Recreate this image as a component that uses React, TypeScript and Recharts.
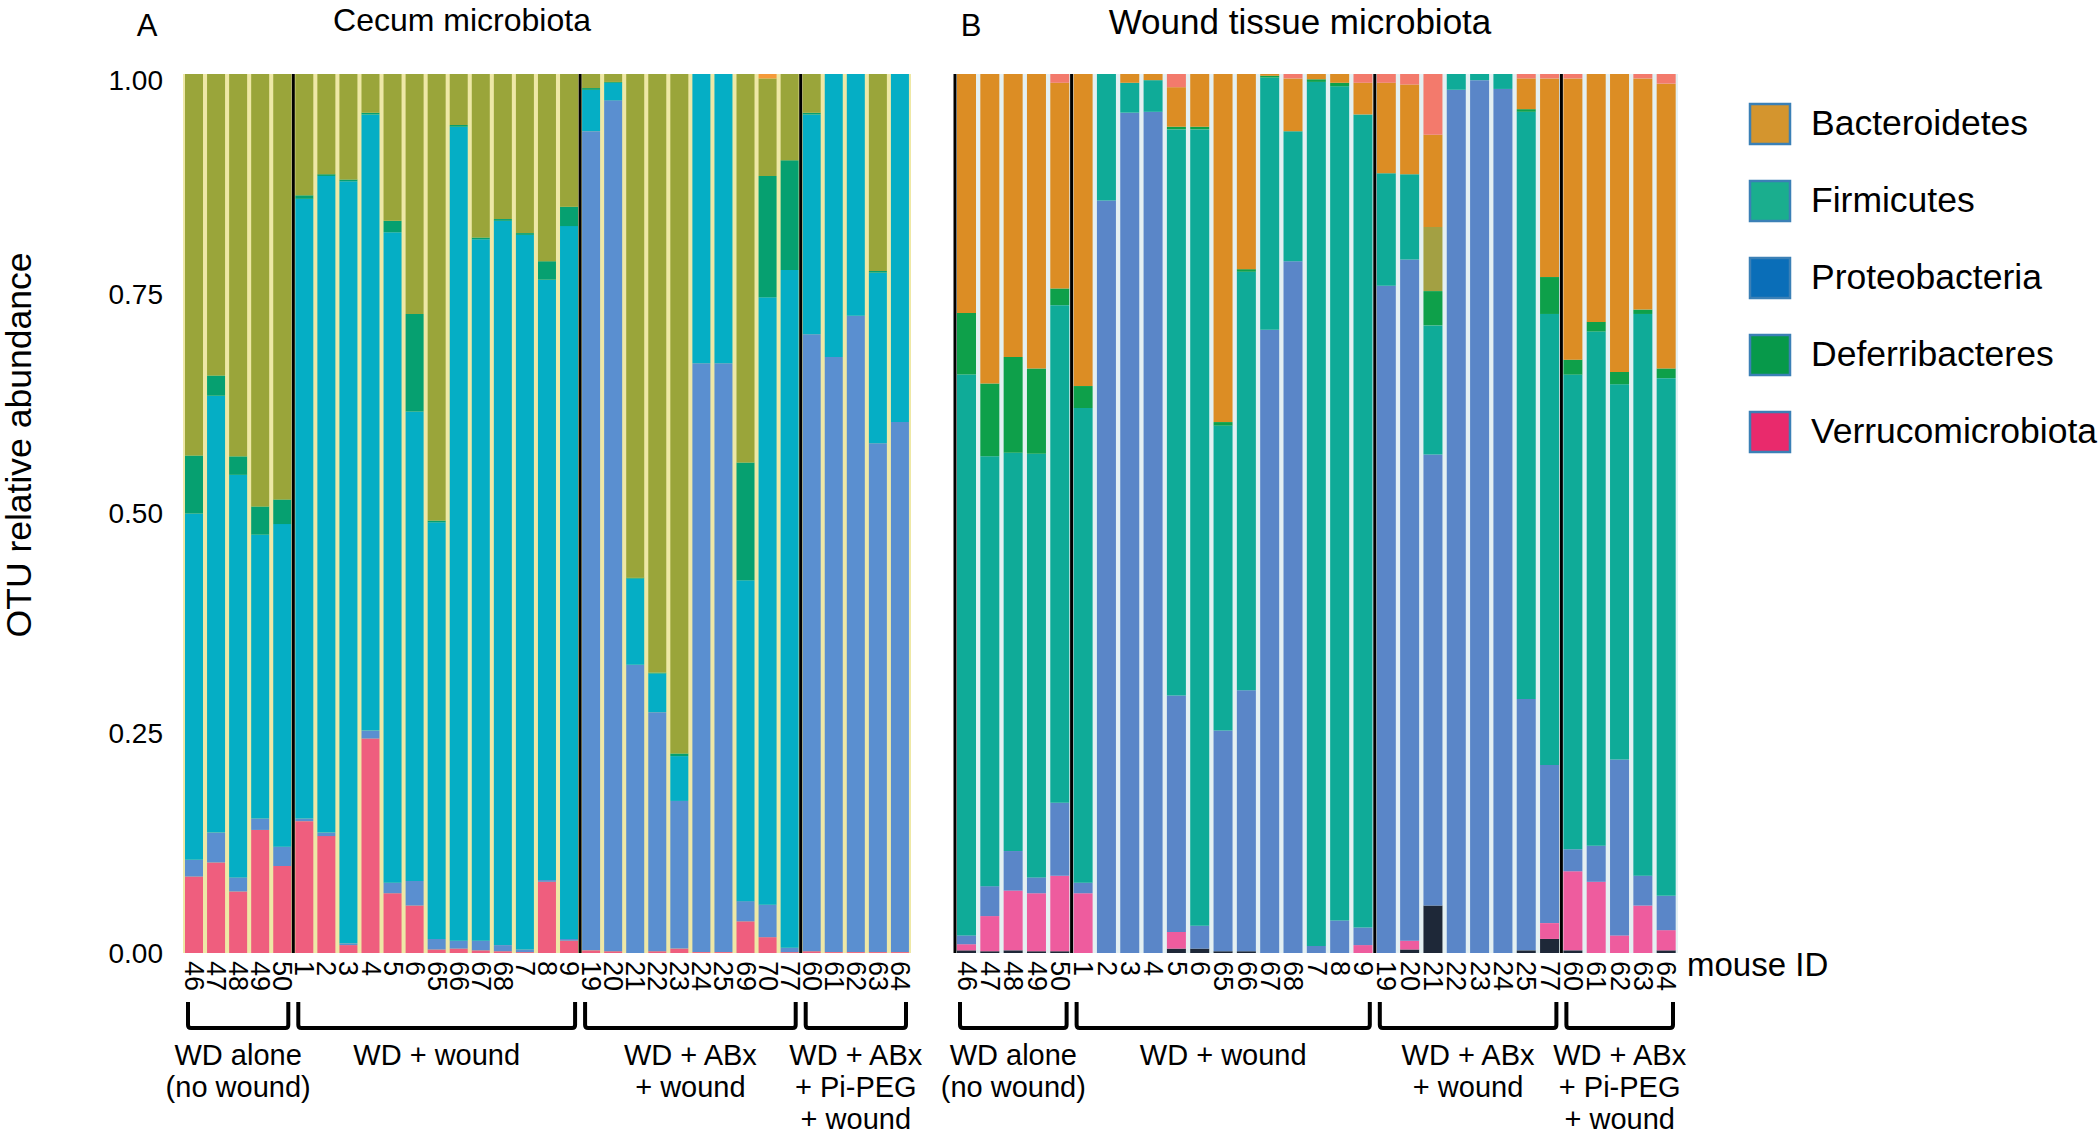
import { BarChart, Bar, XAxis, YAxis } from "recharts";

// ---- panel A: cecum ----
const idsA = ["46", "47", "48", "49", "50", "1", "2", "3", "4", "5", "6", "65", "66", "67", "68", "7", "8", "9", "19", "20", "21", "22", "23", "24", "25", "69", "70", "77", "60", "61", "62", "63", "64"];
const verrucoA = [0.087, 0.103, 0.07, 0.14, 0.099, 0.15, 0.133, 0.009, 0.244, 0.068, 0.054, 0.004, 0.005, 0.003, 0.002, 0.001, 0.081, 0.014, 0.003, 0.002, 0, 0.002, 0.005, 0.001, 0.001, 0.036, 0.018, 0.001, 0.002, 0.001, 0.001, 0.001, 0.001];
const proteoA = [0.019, 0.034, 0.016, 0.013, 0.022, 0.003, 0.004, 0.002, 0.009, 0.012, 0.028, 0.012, 0.009, 0.011, 0.007, 0.003, 0.002, 0.002, 0.932, 0.968, 0.328, 0.272, 0.168, 0.67, 0.67, 0.023, 0.037, 0.005, 0.702, 0.677, 0.724, 0.579, 0.603];
const firmA = [0.394, 0.497, 0.458, 0.323, 0.367, 0.705, 0.747, 0.867, 0.701, 0.74, 0.534, 0.474, 0.926, 0.798, 0.824, 0.813, 0.683, 0.811, 0.047, 0.02, 0.098, 0.044, 0.051, 0.329, 0.329, 0.365, 0.691, 0.771, 0.25, 0.322, 0.275, 0.194, 0.396];
const deferA = [0.066, 0.023, 0.021, 0.032, 0.028, 0.004, 0.002, 0.002, 0.002, 0.013, 0.111, 0.002, 0.002, 0.002, 0.002, 0.002, 0.021, 0.022, 0.002, 0.001, 0.001, 0.001, 0.003, 0, 0, 0.134, 0.138, 0.125, 0.002, 0, 0, 0.002, 0];
const bacteroA = [0.434, 0.343, 0.435, 0.492, 0.484, 0.138, 0.114, 0.12, 0.044, 0.167, 0.273, 0.508, 0.058, 0.186, 0.165, 0.181, 0.213, 0.151, 0.016, 0.009, 0.573, 0.681, 0.773, 0, 0, 0.442, 0.111, 0.098, 0.044, 0, 0, 0.224, 0];
const otherA = [0, 0, 0, 0, 0, 0, 0, 0, 0, 0, 0, 0, 0, 0, 0, 0, 0, 0, 0, 0, 0, 0, 0, 0, 0, 0, 0.005, 0, 0, 0, 0, 0, 0];

// ---- panel B: wound tissue ----
const idsB = ["46", "47", "48", "49", "50", "1", "2", "3", "4", "5", "6", "65", "66", "67", "68", "7", "8", "9", "19", "20", "21", "22", "23", "24", "25", "77", "60", "61", "62", "63", "64"];
const darkB = [0.003, 0.002, 0.003, 0.002, 0.002, 0, 0, 0, 0, 0.005, 0.005, 0.002, 0.002, 0, 0, 0, 0, 0, 0, 0.004, 0.054, 0, 0, 0, 0.003, 0.016, 0.003, 0, 0, 0, 0.003];
const verrucoB = [0.007, 0.04, 0.068, 0.066, 0.086, 0.068, 0, 0, 0, 0.019, 0, 0, 0, 0, 0, 0, 0, 0.009, 0, 0.01, 0, 0, 0, 0, 0, 0.018, 0.09, 0.081, 0.02, 0.054, 0.023];
const proteoB = [0.01, 0.034, 0.045, 0.018, 0.083, 0.012, 0.856, 0.956, 0.957, 0.269, 0.026, 0.251, 0.297, 0.709, 0.787, 0.008, 0.037, 0.02, 0.759, 0.775, 0.513, 0.982, 0.993, 0.983, 0.286, 0.18, 0.025, 0.041, 0.2, 0.034, 0.039];
const firmB = [0.638, 0.489, 0.453, 0.482, 0.566, 0.54, 0.144, 0.034, 0.036, 0.644, 0.906, 0.347, 0.476, 0.287, 0.148, 0.983, 0.949, 0.925, 0.128, 0.097, 0.147, 0.018, 0.007, 0.017, 0.668, 0.513, 0.54, 0.585, 0.427, 0.639, 0.589];
const deferB = [0.07, 0.083, 0.109, 0.097, 0.019, 0.025, 0, 0, 0, 0.003, 0.003, 0.004, 0.003, 0.002, 0, 0.003, 0.004, 0, 0, 0, 0.039, 0, 0, 0, 0.003, 0.042, 0.017, 0.011, 0.014, 0.005, 0.011];
const khakiB = [0, 0, 0, 0, 0, 0, 0, 0, 0, 0, 0, 0, 0, 0, 0, 0, 0, 0, 0, 0, 0.073, 0, 0, 0, 0, 0, 0, 0, 0, 0, 0];
const bacteroB = [0.272, 0.352, 0.322, 0.335, 0.234, 0.355, 0, 0.01, 0.007, 0.045, 0.06, 0.396, 0.222, 0.002, 0.06, 0.006, 0.01, 0.036, 0.103, 0.102, 0.105, 0, 0, 0, 0.035, 0.226, 0.32, 0.282, 0.339, 0.263, 0.324];
const otherB = [0, 0, 0, 0, 0.01, 0, 0, 0, 0, 0.015, 0, 0, 0, 0, 0.005, 0, 0, 0.01, 0.01, 0.012, 0.069, 0, 0, 0, 0.005, 0.005, 0.005, 0, 0, 0.005, 0.011];

const groupLabels = [["WD alone", "(no wound)"], ["WD + wound"], ["WD + ABx", "+ wound"], ["WD + ABx", "+ Pi-PEG", "+ wound"]];
const groupSizesA = [5, 13, 10, 5];
const groupSizesB = [5, 13, 8, 5];

const legendNames = ["Bacteroidetes", "Firmicutes", "Proteobacteria", "Deferribacteres", "Verrucomicrobiota"];
const legendColors = ["#D4952E", "#1AAE8E", "#0A6EB8", "#07994A", "#E92A6C"];

const FONT = "'Liberation Sans', Arial, Helvetica, sans-serif";
const TOP = 74;
const PLOT_H = 879;
const BOTTOM = TOP + PLOT_H;
const PAD = 20; // room for rotated tick labels at the chart edges

const dataA = idsA.map((id, i) => ({
  id, verruco: verrucoA[i], proteo: proteoA[i], firm: firmA[i],
  defer: deferA[i], bactero: bacteroA[i], other: otherA[i],
}));
const dataB = idsB.map((id, i) => ({
  id, dark: darkB[i], verruco: verrucoB[i], proteo: proteoB[i], firm: firmB[i],
  defer: deferB[i], khaki: khakiB[i], bactero: bacteroB[i], other: otherB[i],
}));

const seriesA = [
  { key: "verruco", color: "#EF5E7E" },
  { key: "proteo", color: "#5A8FD0" },
  { key: "firm", color: "#05AEC5" },
  { key: "defer", color: "#06A070" },
  { key: "bactero", color: "#9AA53A" },
  { key: "other", color: "#F59A3A" },
];
const seriesB = [
  { key: "dark", color: "#1E2838" },
  { key: "verruco", color: "#EE5C9E" },
  { key: "proteo", color: "#5A86C8" },
  { key: "firm", color: "#0FAB98" },
  { key: "defer", color: "#0EA04A" },
  { key: "khaki", color: "#A3A043" },
  { key: "bactero", color: "#DC8D24" },
  { key: "other", color: "#F37A6C" },
];

const IdTick = ({ x, y, payload }: any) => (
  <text x={x} y={y} transform={`rotate(90 ${x} ${y})`} textAnchor="start"
    dominantBaseline="central" fontSize={27} fontFamily={FONT} fill="#000">
    {payload.value}
  </text>
);

function Panel({ data, series, plotLeft, plotWidth, showY, gapColor }: any) {
  const chartLeft = showY ? 0 : plotLeft - PAD;
  const yWidth = showY ? plotLeft : 0;
  const leftPad = showY ? 0 : PAD;
  return (
    <>
      <div style={{ position: "absolute", left: plotLeft, top: TOP, width: plotWidth, height: PLOT_H, background: gapColor }} />
      <div style={{ position: "absolute", left: chartLeft, top: TOP - 10 }}>
        <BarChart width={leftPad + yWidth + plotWidth + PAD} height={10 + PLOT_H + 60} data={data}
          margin={{ top: 10, right: PAD, bottom: 0, left: leftPad }} barCategoryGap={2}>
          <XAxis dataKey="id" interval={0} tickLine={false} axisLine={false} height={60} tick={<IdTick />} />
          {showY ? (
            <YAxis domain={[0, 1]} ticks={[0, 0.25, 0.5, 0.75, 1]} width={yWidth}
              tickFormatter={(v: number) => v.toFixed(2)} axisLine={false} tickLine={false} tickMargin={14}
              tick={{ fontSize: 28, fill: "#000", fontFamily: FONT }} />
          ) : (
            <YAxis domain={[0, 1]} hide />
          )}
          {series.map((s: any) => (
            <Bar key={s.key} dataKey={s.key} stackId="s" fill={s.color} isAnimationActive={false} />
          ))}
        </BarChart>
      </div>
    </>
  );
}

function Annotations({ plotLeft, plotWidth, sizes, leftLine }: any) {
  const n = sizes.reduce((a: number, b: number) => a + b, 0);
  const bw = plotWidth / n;
  const edges: number[] = [];
  let acc = 0;
  sizes.forEach((s: number) => { edges.push(acc); acc += s; });
  return (
    <g>
      {edges.map((e, gi) => {
        const divX = plotLeft + e * bw;
        const x1 = plotLeft + e * bw + 5;
        const x2 = plotLeft + (e + sizes[gi]) * bw - 5;
        const cx = (x1 + x2) / 2;
        return (
          <g key={gi}>
            {(gi > 0 || leftLine) && (
              <line x1={divX} x2={divX} y1={TOP} y2={BOTTOM} stroke="#000" strokeWidth={3} />
            )}
            <path d={`M${x1},1002 L${x1},1025 Q${x1},1028 ${x1 + 3},1028 L${x2 - 3},1028 Q${x2},1028 ${x2},1025 L${x2},1002`}
              fill="none" stroke="#000" strokeWidth={4} />
            {groupLabels[gi].map((t, li) => (
              <text key={li} x={cx} y={1055 + li * 32} textAnchor="middle" dominantBaseline="central"
                fontSize={29} fontFamily={FONT}>{t}</text>
            ))}
          </g>
        );
      })}
    </g>
  );
}

export default function App() {
  return (
    <div style={{ position: "absolute", left: 0, top: 0, width: 2100, height: 1134, background: "#fff", fontFamily: FONT, overflow: "hidden" }}>
      <Panel data={dataA} series={seriesA} plotLeft={183} plotWidth={728} showY gapColor="#EEE8A6" />
      <Panel data={dataB} series={seriesB} plotLeft={955} plotWidth={723} showY={false} gapColor="#E4F0F2" />
      <svg width={2100} height={1134} style={{ position: "absolute", left: 0, top: 0, pointerEvents: "none" }}>
        <text x={147} y={25} textAnchor="middle" dominantBaseline="central" fontSize={31} fontFamily={FONT}>A</text>
        <text x={462} y={20} textAnchor="middle" dominantBaseline="central" fontSize={32} fontFamily={FONT}>Cecum microbiota</text>
        <text x={971} y={25} textAnchor="middle" dominantBaseline="central" fontSize={31} fontFamily={FONT}>B</text>
        <text x={1300} y={21} textAnchor="middle" dominantBaseline="central" fontSize={35} fontFamily={FONT}>Wound tissue microbiota</text>
        <text x={19} y={445} transform="rotate(-90 19 445)" textAnchor="middle" dominantBaseline="central"
          fontSize={35.5} fontFamily={FONT}>OTU relative abundance</text>
        <text x={1687} y={964} dominantBaseline="central" fontSize={33} fontFamily={FONT}>mouse ID</text>
        <Annotations plotLeft={183} plotWidth={728} sizes={groupSizesA} leftLine={false} />
        <Annotations plotLeft={955} plotWidth={723} sizes={groupSizesB} leftLine />
        {legendNames.map((name, i) => (
          <g key={name}>
            <rect x={1750} y={104 + i * 77} width={40} height={40} fill={legendColors[i]} stroke="#3B80B6" strokeWidth={2.5} />
            <text x={1811} y={123 + i * 77} dominantBaseline="central" fontSize={35.5} fontFamily={FONT}>{name}</text>
          </g>
        ))}
      </svg>
    </div>
  );
}
